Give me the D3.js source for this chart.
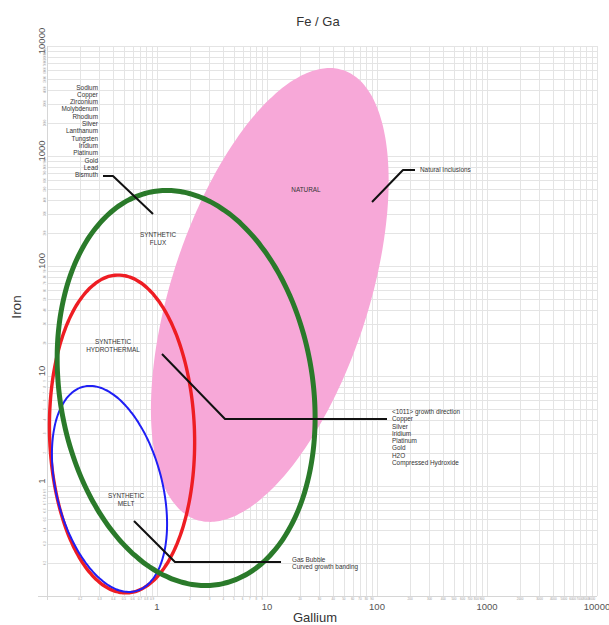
<!DOCTYPE html>
<html>
<head>
<meta charset="utf-8">
<script src="https://cdn.jsdelivr.net/npm/d3@7"></script>
<style>
  body { margin: 0; background: #fff; }
  svg { display: block; }
  text { font-family: "Liberation Sans", Arial, Helvetica, sans-serif; }
</style>
</head>
<body>
<svg id="chart" width="609" height="625"></svg>
<script>
// ---- chart data -------------------------------------------------------
const chartTitle = "Fe / Ga";
const xTitle = "Gallium";
const yTitle = "Iron";
const domainGa = [0.1, 10000];
const domainFe = [0.1, 10000];
const decadeTicks = [1, 10, 100, 1000, 10000];
const decadeStarts = [0.1, 1, 10, 100, 1000];
const minorSteps = [2, 3, 4, 5, 6, 7, 8, 9];

// regions: centre (Ga, Fe), semi-axes in log decades, tilt in degrees
const regionNames = [["NATURAL"], ["SYNTHETIC", "FLUX"], ["SYNTHETIC", "HYDROTHERMAL"], ["SYNTHETIC", "MELT"]];
const centerGa = [10.6, 1.84, 0.481, 0.370];
const centerFe = [54.5, 7.78, 2.97, 0.94];
const majorSpread = [2.15, 1.81, 1.445, 0.959];
const minorSpread = [0.896, 1.15, 0.659, 0.481];
const tiltDeg = [72, 99.4, 91.7, 104.4];
const labelGa = [22.6, 1.021, 0.398, 0.5227];
const labelFe = [490.8, 176, 18.74, 0.746];

// callouts: text lines and leader points (Ga, Fe)
const noteFluxText = ["Sodium", "Copper", "Zirconium", "Molybdenum", "Rhodium", "Silver", "Lanthanum",
  "Tungsten", "Iridium", "Platinum", "Gold", "Lead", "Bismuth"];
const noteFluxPath = [[0.323, 658], [0.398, 658], [0.92, 297]];
const noteNaturalText = ["Natural Inclusions"];
const noteNaturalPath = [[221.5, 746], [172.3, 746], [90.1, 381.8]];
const noteHydroText = ["<1011> growth direction", "Copper", "Silver", "Iridium", "Platinum", "Gold", "H2O",
  "Compressed Hydroxide"];
const noteHydroPath = [[123.3, 4.064], [4.152, 4.064], [1.11, 15.85]];
const noteMeltText = ["Gas Bubble", "Curved growth banding"];
const noteMeltPath = [[13.41, 0.2038], [1.457, 0.2038], [0.618, 0.4807]];

// ---- styles -------------------------------------------------------------
const regionStyle = [
  { fill: "#f7a8d8", stroke: "none", width: 0 },
  { fill: "none", stroke: "#2a7a2a", width: 5 },
  { fill: "none", stroke: "#ee1d23", width: 3.4 },
  { fill: "none", stroke: "#1f1ff5", width: 2 }
];
const drawOrder = [0, 2, 3, 1];

// ---- layout ---------------------------------------------------------------
const svg = d3.select("#chart");
const plotLeft = 47, plotRight = 597, plotTop = 46, plotBottom = 596;

const x = d3.scaleLog().domain(domainGa).range([plotLeft, plotRight]);
const y = d3.scaleLog().domain(domainFe).range([plotBottom, plotTop]);

const gridValues = [];
decadeStarts.forEach(d => { gridValues.push(d); minorSteps.forEach(k => gridValues.push(+(k * d).toPrecision(3))); });
gridValues.push(domainGa[1]);

// grid
const grid = svg.append("g").attr("stroke", "#e4e4e4").attr("stroke-width", 1);
grid.selectAll("line.v").data(gridValues).join("line").attr("class", "v")
  .attr("x1", d => Math.round(x(d)) + 0.5).attr("x2", d => Math.round(x(d)) + 0.5)
  .attr("y1", plotTop).attr("y2", plotBottom);
grid.selectAll("line.h").data(gridValues).join("line").attr("class", "h")
  .attr("y1", d => Math.round(y(d)) + 0.5).attr("y2", d => Math.round(y(d)) + 0.5)
  .attr("x1", plotLeft).attr("x2", plotRight);

// axis lines
svg.append("line").attr("x1", 38).attr("x2", plotRight).attr("y1", plotBottom + 0.5).attr("y2", plotBottom + 0.5)
  .attr("stroke", "#d6d6d6");
svg.append("line").attr("x1", plotLeft + 0.5).attr("x2", plotLeft + 0.5).attr("y1", plotTop).attr("y2", plotBottom + 4)
  .attr("stroke", "#d6d6d6");

// major tick labels
const fmt = d => d3.format("~g")(d);
svg.append("g").selectAll("text").data(decadeTicks).join("text")
  .attr("x", d => x(d)).attr("y", plotBottom + 14)
  .attr("text-anchor", "middle").attr("font-size", 9.5).attr("fill", "#555")
  .text(fmt);
svg.append("g").selectAll("text").data(decadeTicks).join("text")
  .attr("transform", d => `translate(45,${y(d) - 5}) rotate(-90)`)
  .attr("text-anchor", "middle").attr("font-size", 9.5).attr("fill", "#555")
  .text(fmt);

// minor tick labels
const minorValues = [];
decadeStarts.forEach(d => minorSteps.forEach(k => minorValues.push(+(k * d).toPrecision(3))));
svg.append("g").selectAll("text").data(minorValues).join("text")
  .attr("x", d => x(d)).attr("y", plotBottom + 3.5)
  .attr("text-anchor", "middle").attr("font-size", 3).attr("fill", "#999")
  .text(fmt);
svg.append("g").selectAll("text").data(minorValues).join("text")
  .attr("transform", d => `translate(46,${y(d)}) rotate(-90)`)
  .attr("text-anchor", "middle").attr("font-size", 3).attr("fill", "#999")
  .text(fmt);

// titles
svg.append("text").attr("x", 318).attr("y", 26).attr("text-anchor", "middle")
  .attr("font-size", 13).attr("fill", "#333").text(chartTitle);
svg.append("text").attr("x", 315).attr("y", 622).attr("text-anchor", "middle")
  .attr("font-size", 13).attr("fill", "#333").text(xTitle);
svg.append("text").attr("transform", "translate(21,307) rotate(-90)").attr("text-anchor", "middle")
  .attr("font-size", 13.5).attr("fill", "#333").text(yTitle);

// region ellipses, traced in log space
function ellipsePoints(i) {
  const cx = Math.log10(centerGa[i]), cy = Math.log10(centerFe[i]);
  const a = majorSpread[i], b = minorSpread[i], t = tiltDeg[i] * Math.PI / 180;
  return d3.range(0, 360, 2).map(deg => {
    const s = deg * Math.PI / 180;
    const u = a * Math.cos(s), v = b * Math.sin(s);
    return [Math.pow(10, cx + u * Math.cos(t) - v * Math.sin(t)),
            Math.pow(10, cy + u * Math.sin(t) + v * Math.cos(t))];
  });
}
const ellipseLine = d3.line().x(d => x(d[0])).y(d => y(d[1])).curve(d3.curveCardinalClosed);
svg.append("g").selectAll("path").data(drawOrder).join("path")
  .attr("d", i => ellipseLine(ellipsePoints(i)))
  .attr("fill", i => regionStyle[i].fill)
  .attr("stroke", i => regionStyle[i].stroke)
  .attr("stroke-width", i => regionStyle[i].width);

// region labels
const regionLabels = svg.append("g").selectAll("text").data(regionNames).join("text")
  .attr("text-anchor", "middle").attr("font-size", 6.4).attr("fill", "#333")
  .attr("transform", (d, i) => `translate(${x(labelGa[i])},${y(labelFe[i])})`);
regionLabels.selectAll("tspan").data(d => d).join("tspan")
  .attr("x", 0).attr("y", (d, j, n) => (j - (n.length - 1) / 2) * 7.6 + 2.3)
  .text(d => d);

// callouts
const leader = d3.line().x(d => x(d[0])).y(d => y(d[1]));
function callout(lines, path, anchor, dx, row, dy) {
  svg.append("path").attr("d", leader(path)).attr("fill", "none")
    .attr("stroke", "#111").attr("stroke-width", 2).attr("stroke-linejoin", "round");
  const px = x(path[0][0]) + dx, py = y(path[0][1]) + dy;
  svg.append("g").selectAll("text").data(lines).join("text")
    .attr("x", px).attr("y", (d, j) => py + (j - row) * 7.3 + 2.2)
    .attr("text-anchor", anchor).attr("font-size", 6.4).attr("fill", "#333")
    .text(d => d);
}
callout(noteFluxText, noteFluxPath, "end", -5, 12, -1);
callout(noteNaturalText, noteNaturalPath, "start", 5, 0, 0);
callout(noteHydroText, noteHydroPath, "start", 5, 1, 0);
callout(noteMeltText, noteMeltPath, "start", 11, 0, -2);
</script>
</body>
</html>
